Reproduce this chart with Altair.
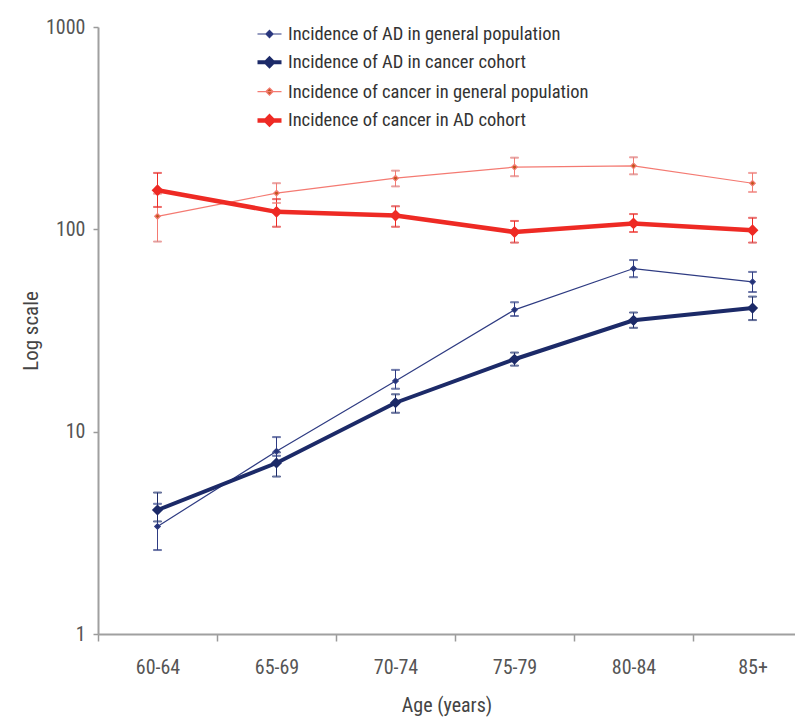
import altair as alt
import pandas as pd

ages = ["60-64", "65-69", "70-74", "75-79", "80-84", "85+"]
series_names = [
    "Incidence of AD in general population",
    "Incidence of AD in cancer cohort",
    "Incidence of cancer in general population",
    "Incidence of cancer in AD cohort",
]

ad_gen = [3.4, 8.0, 17.8, 40.0, 64.0, 55.0]
ad_gen_lo = [2.6, 7.6, 16.3, 37.3, 58.0, 49.0]
ad_gen_hi = [4.4, 9.4, 20.2, 43.6, 70.5, 61.6]

ad_can = [4.1, 7.0, 13.9, 22.8, 35.5, 40.8]
ad_can_lo = [3.6, 6.0, 12.4, 21.2, 32.6, 35.6]
ad_can_hi = [5.0, 7.9, 15.3, 24.6, 38.8, 46.5]

can_gen = [116, 151, 179, 203, 206, 169]
can_gen_lo = [87, 135, 163, 183, 187, 153]
can_gen_hi = [150, 169, 195, 226, 227, 190]

can_ad = [156, 122, 117, 97, 107, 99]
can_ad_lo = [129, 103, 103, 86, 97, 86]
can_ad_hi = [190, 141, 130, 110, 119, 114]

line_colors = ["#2e3b82", "#1c2a68", "#f47a72", "#ee2a24"]
marker_colors = ["#243274", "#1c2a68", "#c0561c", "#ee2a24"]
line_widths = [1.2, 4, 1.2, 4.5]

rows = []
for name, vals, los, his in [
    (series_names[2], can_gen, can_gen_lo, can_gen_hi),
    (series_names[3], can_ad, can_ad_lo, can_ad_hi),
    (series_names[0], ad_gen, ad_gen_lo, ad_gen_hi),
    (series_names[1], ad_can, ad_can_lo, ad_can_hi),
]:
    for i, (v, lo, hi) in enumerate(zip(vals, los, his)):
        rows.append({"series": name, "idx": i, "age": ages[i], "value": v, "lo": lo, "hi": hi})
df = pd.DataFrame(rows)

FONT = "Liberation Sans Narrow, Arial Narrow, Roboto Condensed, Liberation Sans, sans-serif"

stroke_scale = alt.Scale(domain=series_names, range=line_colors)
fill_scale = alt.Scale(domain=series_names, range=marker_colors)
sw_scale = alt.Scale(type="ordinal", domain=series_names, range=line_widths)

label_js = "[" + ",".join("'" + a + "'" for a in ages) + "]"

x_enc = alt.X(
    "idx:Q",
    scale=alt.Scale(domain=[-0.5, 5.357], nice=False, zero=False),
    axis=alt.Axis(
        values=[-0.5, 0.5, 1.5, 2.5, 3.5, 4.5],
        labelExpr=label_js + "[round(datum.value + 0.5)]",
        labelOffset=59.5,
        title="Age (years)",
        grid=False,
        tickSize=7,
        tickColor="#9a9a9a",
        tickWidth=1.5,
        domainColor="#a0a0a0",
        domainWidth=2,
        labelFont=FONT,
        labelFontSize=20,
        labelColor="#555555",
        labelPadding=16,
        labelOverlap=False,
        labelFlush=False,
        labelBound=False,
        titleFont=FONT,
        titleFontSize=20,
        titleFontWeight="normal",
        titleColor="#444444",
        titlePadding=18,
    ),
)

y_axis = alt.Axis(
    values=[1, 10, 100, 1000],
    format="d",
    title="Log scale",
    grid=False,
    tickSize=5,
    tickColor="#9a9a9a",
    tickWidth=1.5,
    domainColor="#a0a0a0",
    domainWidth=2,
    labelFont=FONT,
    labelFontSize=20,
    labelColor="#555555",
    labelPadding=8,
    titleFont=FONT,
    titleFontSize=21,
    titleFontWeight="normal",
    titleColor="#444444",
    titlePadding=4,
)
y_scale = alt.Scale(type="log", domain=[1, 1000], nice=False)

legend = alt.Legend(
    title=None,
    orient="none",
    legendX=157,
    legendY=-6,
    symbolType="M-1,0H1M0,-0.3L0.3,0L0,0.3L-0.3,0Z",
    symbolSize=576,
    labelFont=FONT,
    labelFontSize=18.5,
    labelColor="#333333",
    labelOffset=4,
    labelLimit=500,
    rowPadding=4.3,
    symbolOpacity=1,
)

base = alt.Chart(df)

err_rules = base.mark_rule(strokeWidth=1).encode(
    x=x_enc,
    y=alt.Y("lo:Q", scale=y_scale, axis=y_axis),
    y2="hi:Q",
    stroke=alt.Stroke("series:N", scale=stroke_scale, legend=legend),
)

err_caps = base.transform_fold(["lo", "hi"], as_=["k", "v"]).mark_tick(
    orient="horizontal", size=8, thickness=1
).encode(
    x=x_enc,
    y=alt.Y("v:Q", scale=y_scale, axis=y_axis),
    stroke=alt.Stroke("series:N", scale=stroke_scale, legend=legend),
)

lines = base.mark_line().encode(
    x=x_enc,
    y=alt.Y("value:Q", scale=y_scale, axis=y_axis),
    stroke=alt.Stroke("series:N", scale=stroke_scale, legend=legend),
    strokeWidth=alt.StrokeWidth("series:N", scale=sw_scale, legend=legend),
    detail="series:N",
)

points = base.mark_point(filled=True, shape="diamond", size=30, opacity=1).encode(
    x=x_enc,
    y=alt.Y("value:Q", scale=y_scale, axis=y_axis),
    fill=alt.Fill("series:N", scale=fill_scale, legend=legend),
    stroke=alt.Stroke("series:N", scale=stroke_scale, legend=legend),
    strokeWidth=alt.StrokeWidth("series:N", scale=sw_scale, legend=legend),
)

chart = (
    alt.layer(err_rules, err_caps, lines, points)
    .properties(
        width=697,
        height=607,
        autosize=alt.AutoSizeParams(type="none"),
        padding={"left": 98, "top": 27, "right": 0, "bottom": 83},
        background="white",
    )
    .configure_view(stroke=None)
)

chart.save("out.html", embed_options={"renderer": "svg", "actions": False})
